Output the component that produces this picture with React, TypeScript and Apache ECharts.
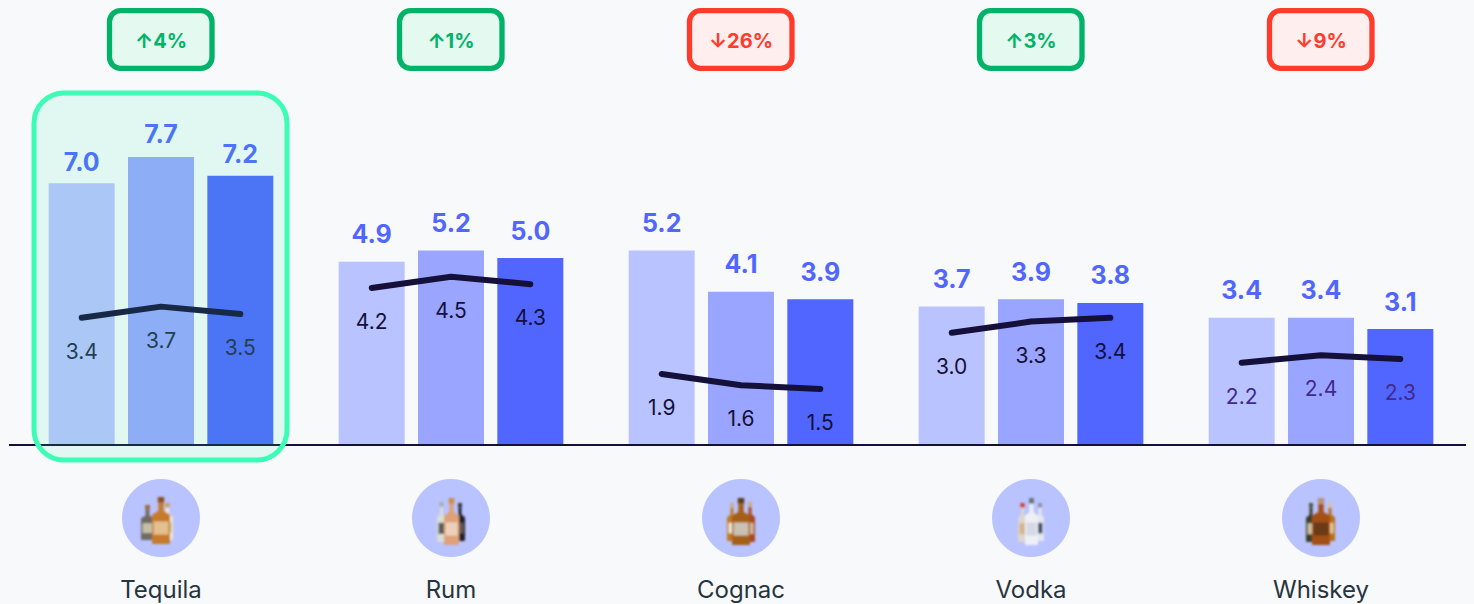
import React, { useEffect, useRef } from "react";
import * as echarts from "echarts";

const categories = ["Tequila", "Rum", "Cognac", "Vodka", "Whiskey"];
const barsFirst = [7.0, 4.9, 5.2, 3.7, 3.4];
const barsSecond = [7.7, 5.2, 4.1, 3.9, 3.4];
const barsThird = [7.2, 5.0, 3.9, 3.8, 3.1];
const lineFirst = [3.4, 4.2, 1.9, 3.0, 2.2];
const lineSecond = [3.7, 4.5, 1.6, 3.3, 2.4];
const lineThird = [3.5, 4.3, 1.5, 3.4, 2.3];
const changes = [4, 1, -26, 3, -9];
const lineLabelColors = ["#1f2a44", "#14103a", "#14103a", "#14103a", "#43298c"];
const tequilaLabelDistances = [9, 11, 9];

const BG = "#f8f9fb";
const BAND = 290;
const GRID_LEFT = 16;
const BASE_Y = 445;
const OFFSET = 79.3 / BAND;
const centerX = (i: number) => GRID_LEFT + BAND * (i + 0.5);

type Bottle = { x: number; w: number; top: number; bottom: number; body: string; cap: string; tag: string };

const bottleSets: Bottle[][] = [
  [
    { x: 9, w: 13, top: 10, bottom: 45, body: "#6f6a60", cap: "#9a6a3c", tag: "#c4bfa8" },
    { x: 30, w: 11, top: 8, bottom: 45, body: "#efe8cf", cap: "#c9a063", tag: "#c7bb86" },
    { x: 20, w: 18, top: 2, bottom: 49, body: "#c77a2c", cap: "#8c4f1e", tag: "#e3c08f" },
  ],
  [
    { x: 15, w: 9, top: 7, bottom: 47, body: "#d9ddd6", cap: "#a9b0a6", tag: "#5b5f58" },
    { x: 33, w: 10, top: 8, bottom: 46, body: "#22222c", cap: "#3a3a44", tag: "#6b5a52" },
    { x: 22, w: 15, top: 3, bottom: 50, body: "#dfa178", cap: "#d08a45", tag: "#edd0bb" },
  ],
  [
    { x: 15, w: 10, top: 8, bottom: 46, body: "#bf7a22", cap: "#c9b08a", tag: "#efe6d6" },
    { x: 33, w: 10, top: 7, bottom: 47, body: "#a8481c", cap: "#c9ac88", tag: "#d5b7a0" },
    { x: 20, w: 18, top: 3, bottom: 50, body: "#a65f18", cap: "#5c3b18", tag: "#c9c2b4" },
  ],
  [
    { x: 16, w: 9, top: 8, bottom: 47, body: "#ddd6cf", cap: "#d63a34", tag: "#d6b58a" },
    { x: 34, w: 8, top: 8, bottom: 46, body: "#e3e7ee", cap: "#8d93a0", tag: "#3d4d70" },
    { x: 23, w: 13, top: 3, bottom: 50, body: "#eef0f6", cap: "#6d7280", tag: "#d5d9e6" },
  ],
  [
    { x: 14, w: 10, top: 8, bottom: 47, body: "#3a3f2c", cap: "#4e5a3a", tag: "#cdbf9e" },
    { x: 33, w: 10, top: 8, bottom: 46, body: "#bb6f1f", cap: "#d8c29c", tag: "#e4c98f" },
    { x: 20, w: 18, top: 3, bottom: 50, body: "#a44f14", cap: "#b98f78", tag: "#6b3a18" },
  ],
];

function bottleSvg(b: Bottle) {
  const cx = b.x + b.w / 2;
  const h = b.bottom - b.top;
  const neckW = Math.max(3, b.w * 0.3);
  const capH = h * 0.12;
  const neckBottom = b.top + h * 0.3;
  const bodyTop = b.top + h * 0.38;
  return (
    `<path d="M${cx - neckW / 2} ${b.top + capH}V${neckBottom}L${b.x} ${bodyTop}V${b.bottom - 1}Q${b.x} ${b.bottom} ${b.x + 1} ${b.bottom}H${b.x + b.w - 1}Q${b.x + b.w} ${b.bottom} ${b.x + b.w} ${b.bottom - 1}V${bodyTop}L${cx + neckW / 2} ${neckBottom}V${b.top + capH}Z" fill="${b.body}"/>` +
    `<rect x="${cx - neckW / 2 - 0.5}" y="${b.top}" width="${neckW + 1}" height="${capH}" fill="${b.cap}"/>` +
    `<rect x="${b.x + 1.5}" y="${bodyTop + h * 0.14}" width="${b.w - 3}" height="${h * 0.28}" fill="${b.tag}"/>`
  );
}

function bottleImage(set: Bottle[]) {
  const svg =
    `<svg xmlns="http://www.w3.org/2000/svg" width="58" height="52" viewBox="0 0 58 52">` +
    `<filter id="b" x="-10%" y="-10%" width="120%" height="120%"><feGaussianBlur stdDeviation="0.9"/></filter><g filter="url(#b)">` +
    set.map(bottleSvg).join("") +
    `</g></svg>`;
  return "data:image/svg+xml;charset=utf-8," + encodeURIComponent(svg);
}

function badge(i: number) {
  const up = changes[i] >= 0;
  const cx = centerX(i);
  return [
    {
      type: "rect",
      z: 20,
      shape: { x: cx - 51.5, y: 10.6, width: 102.5, height: 57.7, r: 11 },
      style: { fill: up ? "#e4f9f0" : "#ffeeee", stroke: up ? "#00b368" : "#ff3b2c", lineWidth: 5.3 },
    },
    {
      type: "text",
      z: 21,
      x: cx,
      y: 41,
      style: {
        text: `${up ? "↑" : "↓"}${Math.abs(changes[i])}%`,
        fill: up ? "#00b368" : "#ff3b2c",
        font: "700 20px Inter",
        align: "center",
        verticalAlign: "middle",
      },
    },
  ];
}

function icon(i: number) {
  const cx = centerX(i);
  return [
    { type: "circle", z: 20, shape: { cx, cy: 518, r: 39 }, style: { fill: "#b9c3ff" } },
    {
      type: "image",
      z: 21,
      style: { image: bottleImage(bottleSets[i]), x: cx - 29, y: 495, width: 58, height: 52 },
    },
  ];
}

const barColors = ["#b9c3ff", "#99a5ff", "#5066ff"];

function barSeries(name: string, data: number[], color: string, k: number) {
  const label = {
    show: true,
    position: "top",
    distance: 15,
    color: "#5066ff",
    fontFamily: "Inter",
    fontSize: 25,
    fontWeight: 700,
    formatter: (p: any) => Number(p.value).toFixed(1),
  };
  return {
    name,
    type: "bar",
    data: data.map((value, i) =>
      i === 0 ? { value, label: { distance: tequilaLabelDistances[k] } } : value
    ),
    barWidth: 66,
    barGap: "20.2%",
    itemStyle: { color },
    label,
    z: 2,
  };
}

function lineSeries(i: number) {
  const values = [lineFirst[i], lineSecond[i], lineThird[i]];
  return {
    name: categories[i] + " trend",
    type: "line",
    xAxisIndex: 1,
    yAxisIndex: 0,
    symbol: "circle",
    symbolSize: 1,
    showSymbol: true,
    itemStyle: { color: "#14103a" },
    data: values.map((v, k) => [i + (k - 1) * OFFSET, v]),
    lineStyle: { color: "#14103a", width: 6, cap: "round", join: "round" },
    label: {
      show: true,
      position: "bottom",
      distance: 22.5,
      color: lineLabelColors[i],
      fontFamily: "Inter",
      fontSize: 21,
      fontWeight: 400,
      formatter: (p: any) => Number(p.value[1]).toFixed(1),
    },
    z: 5,
  };
}

export default function App() {
  const ref = useRef<HTMLDivElement>(null);
  useEffect(() => {
    document.body.style.margin = "0";
    document.body.style.background = BG;
    const chart = echarts.init(ref.current!, undefined, { renderer: "svg" });
    chart.setOption({
      animation: false,
      backgroundColor: BG,
      grid: { left: GRID_LEFT, right: 8, top: BASE_Y - 374, height: 374, containLabel: false },
      xAxis: [
        {
          type: "category",
          data: categories,
          axisLine: { show: false },
          axisTick: { show: false },
          axisLabel: {
            interval: 0,
            margin: 132,
            color: "#26353f",
            fontFamily: "Inter",
            fontSize: 24,
            fontWeight: 400,
          },
        },
        { type: "value", min: -0.5, max: 4.5, show: false },
      ],
      yAxis: { type: "value", min: 0, max: 10, show: false },
      series: [
        barSeries("First", barsFirst, barColors[0], 0),
        barSeries("Second", barsSecond, barColors[1], 1),
        barSeries("Third", barsThird, barColors[2], 2),
        ...categories.map((_, i) => lineSeries(i)),
      ],
      graphic: [
        {
          type: "line",
          z: 10,
          shape: { x1: 9, y1: BASE_Y, x2: 1466, y2: BASE_Y },
          style: { stroke: "#14103a", lineWidth: 2 },
        },
        {
          type: "rect",
          z: 30,
          shape: { x: 34, y: 93, width: 253, height: 367, r: 30 },
          style: { fill: "rgba(53,240,180,0.113)", stroke: "#3dfdb6", lineWidth: 5 },
        },
        ...categories.flatMap((_, i) => [...badge(i), ...icon(i)]),
      ],
    });
    return () => chart.dispose();
  }, []);
  return <div ref={ref} style={{ position: "absolute", left: 0, top: 0, width: 1474, height: 604 }} />;
}
